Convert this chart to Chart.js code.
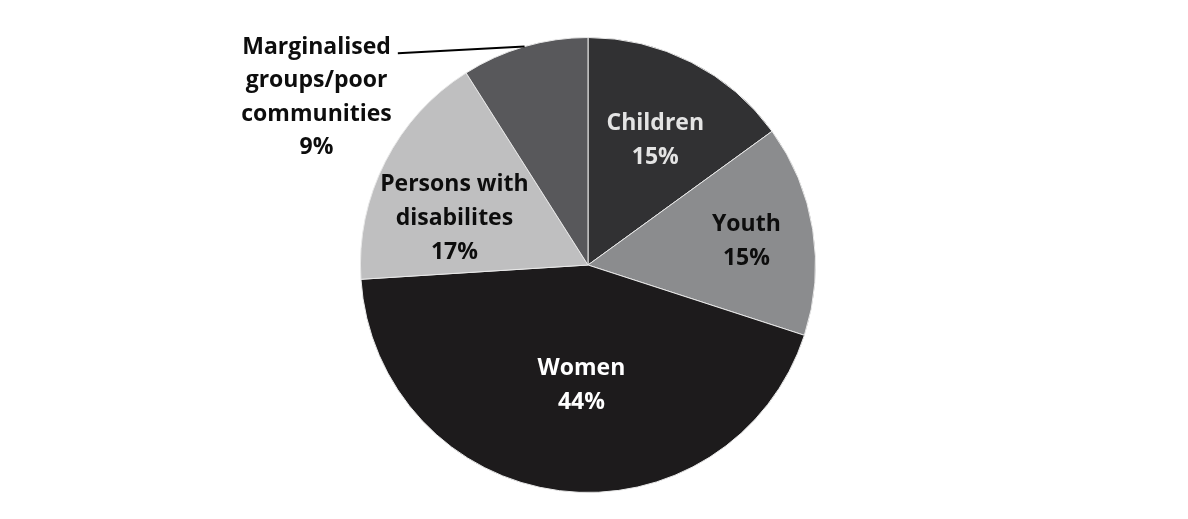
<!DOCTYPE html>
<html>
<head>
<meta charset="utf-8">
<script src="https://cdn.jsdelivr.net/npm/chart.js@4"></script>
<style>
  html, body { margin: 0; padding: 0; background: #fff; }
  #chart { display: block; }
</style>
</head>
<body>
<canvas id="chart" width="1188" height="519"></canvas>
<script>
// beneficiary groups, clockwise from 12 o'clock
const categories = ['Children', 'Youth', 'Women', 'Persons with disabilites', 'Marginalised groups/poor communities'];
const shares = [15, 15, 44, 17, 9];
const labelLines = [
  ['Children'],
  ['Youth'],
  ['Women'],
  ['Persons with', 'disabilites'],
  ['Marginalised', 'groups/poor', 'communities'],
];

const sliceColors = ['#313133', '#8b8c8e', '#1d1b1c', '#bfbfc0', '#58585b'];
const labelColors = ['#e4e4e4', '#0d0d0d', '#ffffff', '#0d0d0d', '#0d0d0d'];

// label placement: fraction of radius + angle tweak (deg); last one sits outside
const placement = [
  { r: 0.63, da: 1 },
  { r: 0.705, da: 0 },
  { r: 0.52, da: -4 },
  { r: 0.625, da: -7 },
  { outside: true, dx: -208, dy: 49 },
];

const FONT = 'bold 23px "Open Sans", "Noto Sans", sans-serif';
const LINE_H = 34;
const Y_NUDGE = 2;

const pieLabels = {
  id: 'pieLabels',
  afterDatasetsDraw(chart) {
    const ctx = chart.ctx;
    const meta = chart.getDatasetMeta(0);
    ctx.save();
    ctx.font = FONT;
    ctx.textAlign = 'center';
    ctx.textBaseline = 'middle';
    meta.data.forEach((arc, i) => {
      const p = arc.getProps(['x', 'y', 'startAngle', 'endAngle', 'outerRadius'], true);
      const mid = (p.startAngle + p.endAngle) / 2;
      const lines = labelLines[i].concat([shares[i] + '%']);
      const pl = placement[i];
      let cx, cy;
      if (pl.outside) {
        const ex = p.x + Math.cos(mid) * p.outerRadius;
        const ey = p.y + Math.sin(mid) * p.outerRadius;
        cx = ex + pl.dx;
        cy = ey + pl.dy;
        const top = cy - (lines.length - 1) * 33.5 / 2;
        const w = ctx.measureText(lines[0]).width;
        ctx.strokeStyle = '#000';
        ctx.lineWidth = 2;
        ctx.beginPath();
        ctx.moveTo(cx + w / 2 + 7, top + 8);
        ctx.lineTo(ex, ey);
        ctx.stroke();
        ctx.fillStyle = labelColors[i];
        lines.forEach((t, k) => ctx.fillText(t, cx, top + k * 33.5 + Y_NUDGE));
        return;
      }
      const a = mid + pl.da * Math.PI / 180;
      cx = p.x + Math.cos(a) * p.outerRadius * pl.r;
      cy = p.y + Math.sin(a) * p.outerRadius * pl.r;
      const top = cy - (lines.length - 1) * LINE_H / 2;
      ctx.fillStyle = labelColors[i];
      lines.forEach((t, k) => ctx.fillText(t, cx, top + k * LINE_H + Y_NUDGE));
    });
    ctx.restore();
  }
};

new Chart(document.getElementById('chart'), {
  type: 'pie',
  data: {
    labels: categories,
    datasets: [{
      data: shares,
      backgroundColor: sliceColors,
      borderColor: '#e8e8e8',
      borderWidth: 1,
    }],
  },
  options: {
    responsive: false,
    animation: false,
    layout: { padding: { top: 37, bottom: 26, left: 0, right: 12 } },
    plugins: {
      legend: { display: false },
      tooltip: { enabled: false },
    },
  },
  plugins: [pieLabels],
});
</script>
</body>
</html>
